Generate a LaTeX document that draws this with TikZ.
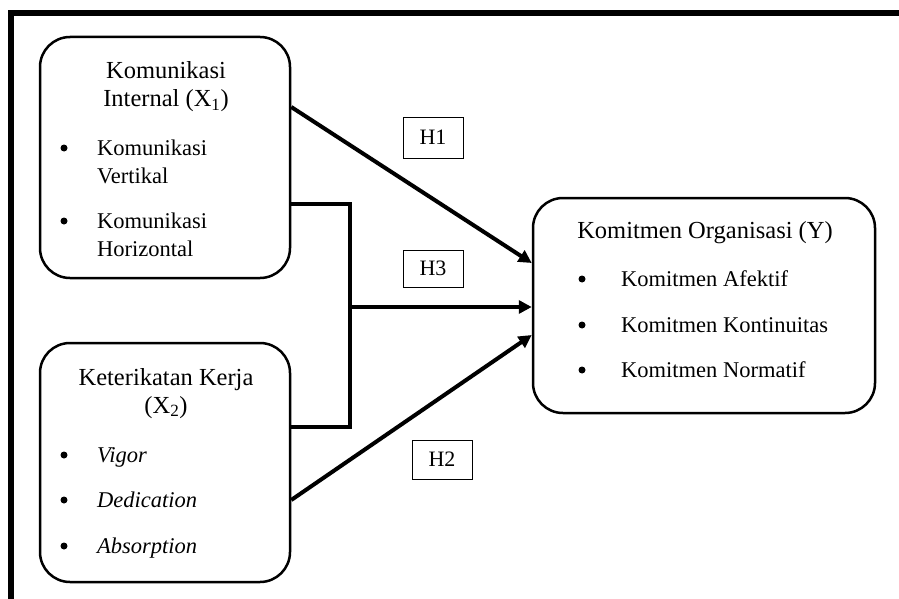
\documentclass[tikz,border=0pt]{standalone}
\usepackage{fontspec}
\setmainfont{Liberation Serif}
\usetikzlibrary{arrows.meta,calc}
\begin{document}
\begin{tikzpicture}[x=1pt,y=-1pt,
  varbox/.style={draw,line width=2.5pt,rounded corners=30pt,minimum width=#1,inner sep=0pt},
  hbox/.style={draw,line width=0.9pt,minimum width=60pt,inner sep=0pt,font=\fontsize{22}{26}\selectfont},
  ttl/.style={anchor=base,font=\fontsize{24.5}{28}\selectfont,inner sep=0pt},
  itm/.style={anchor=base west,font=\fontsize{22.5}{28}\selectfont,inner sep=0pt},
  bul/.style={circle,fill,inner sep=0pt,minimum size=7pt},
  conn/.style={line width=4pt},
  arr/.style={line width=4pt,-{Triangle[length=13pt,width=13pt]}}]
\useasboundingbox (0,0) rectangle (899,599);
\fill[white] (0,0) rectangle (899,599);
% outer frame (top and left only)
\draw[line width=6pt,line join=miter] (11,610) -- (11,13) -- (910,13);
% boxes
\node[varbox=250pt,minimum height=241pt] (X1) at (165,157.5) {};
\node[varbox=250pt,minimum height=239pt] (X2) at (165,462.5) {};
\node[varbox=342pt,minimum height=215pt] (Y) at (704,305.5) {};
% X1 texts
\node[ttl] (x1t1) at (166,79) {Komunikasi};
\node[ttl] (x1t2) at (166,107) {Internal (X\textsubscript{1})};
\node[bul] (x1b1) at (64,148) {};
\node[itm] (x1i1) at (97,155) {Komunikasi};
\node[itm] (x1i1b) at (97,183) {Vertikal};
\node[bul] (x1b2) at (64,221) {};
\node[itm] (x1i2) at (97,228) {Komunikasi};
\node[itm] (x1i2b) at (97,256) {Horizontal};
% X2 texts
\node[ttl] (x2t1) at (166,385) {Keterikatan Kerja};
\node[ttl] (x2t2) at (166,413) {(X\textsubscript{2})};
\node[bul] (x2b1) at (64,455) {};
\node[itm] (x2i1) at (97,462) {\itshape Vigor};
\node[bul] (x2b2) at (64,500) {};
\node[itm] (x2i2) at (97,507) {\itshape Dedication};
\node[bul] (x2b3) at (64,546) {};
\node[itm] (x2i3) at (97,553) {\itshape Absorption};
% Y texts
\node[ttl] (yt) at (705,238) {Komitmen Organisasi (Y)};
\node[bul] (yb1) at (582,279) {};
\node[itm] (yi1) at (621,286) {Komitmen Afektif};
\node[bul] (yb2) at (582,325) {};
\node[itm] (yi2) at (621,332) {Komitmen Kontinuitas};
\node[bul] (yb3) at (582,370) {};
\node[itm] (yi3) at (621,377) {Komitmen Normatif};
% hypothesis labels
\node[hbox,minimum height=41pt] (H1) at (433,137.5) {H1};
\node[hbox,minimum height=37pt] (H3) at (433,268.5) {H3};
\node[hbox,minimum height=39pt] (H2) at (442,459.5) {H2};
% connectors
\coordinate (jx) at (350,307);
\draw[arr] ([yshift=50.5pt]X1.east) -- ([yshift=42.5pt]Y.west);
\draw[conn,line join=miter] ([yshift=-46.5pt]X1.east) -| (jx) |- ([yshift=35.5pt]X2.east);
\draw[arr] (jx) -- (jx -| Y.west);
\draw[arr] ([yshift=-37.5pt]X2.east) -- ([yshift=-29.5pt]Y.west);
\end{tikzpicture}
\end{document}
